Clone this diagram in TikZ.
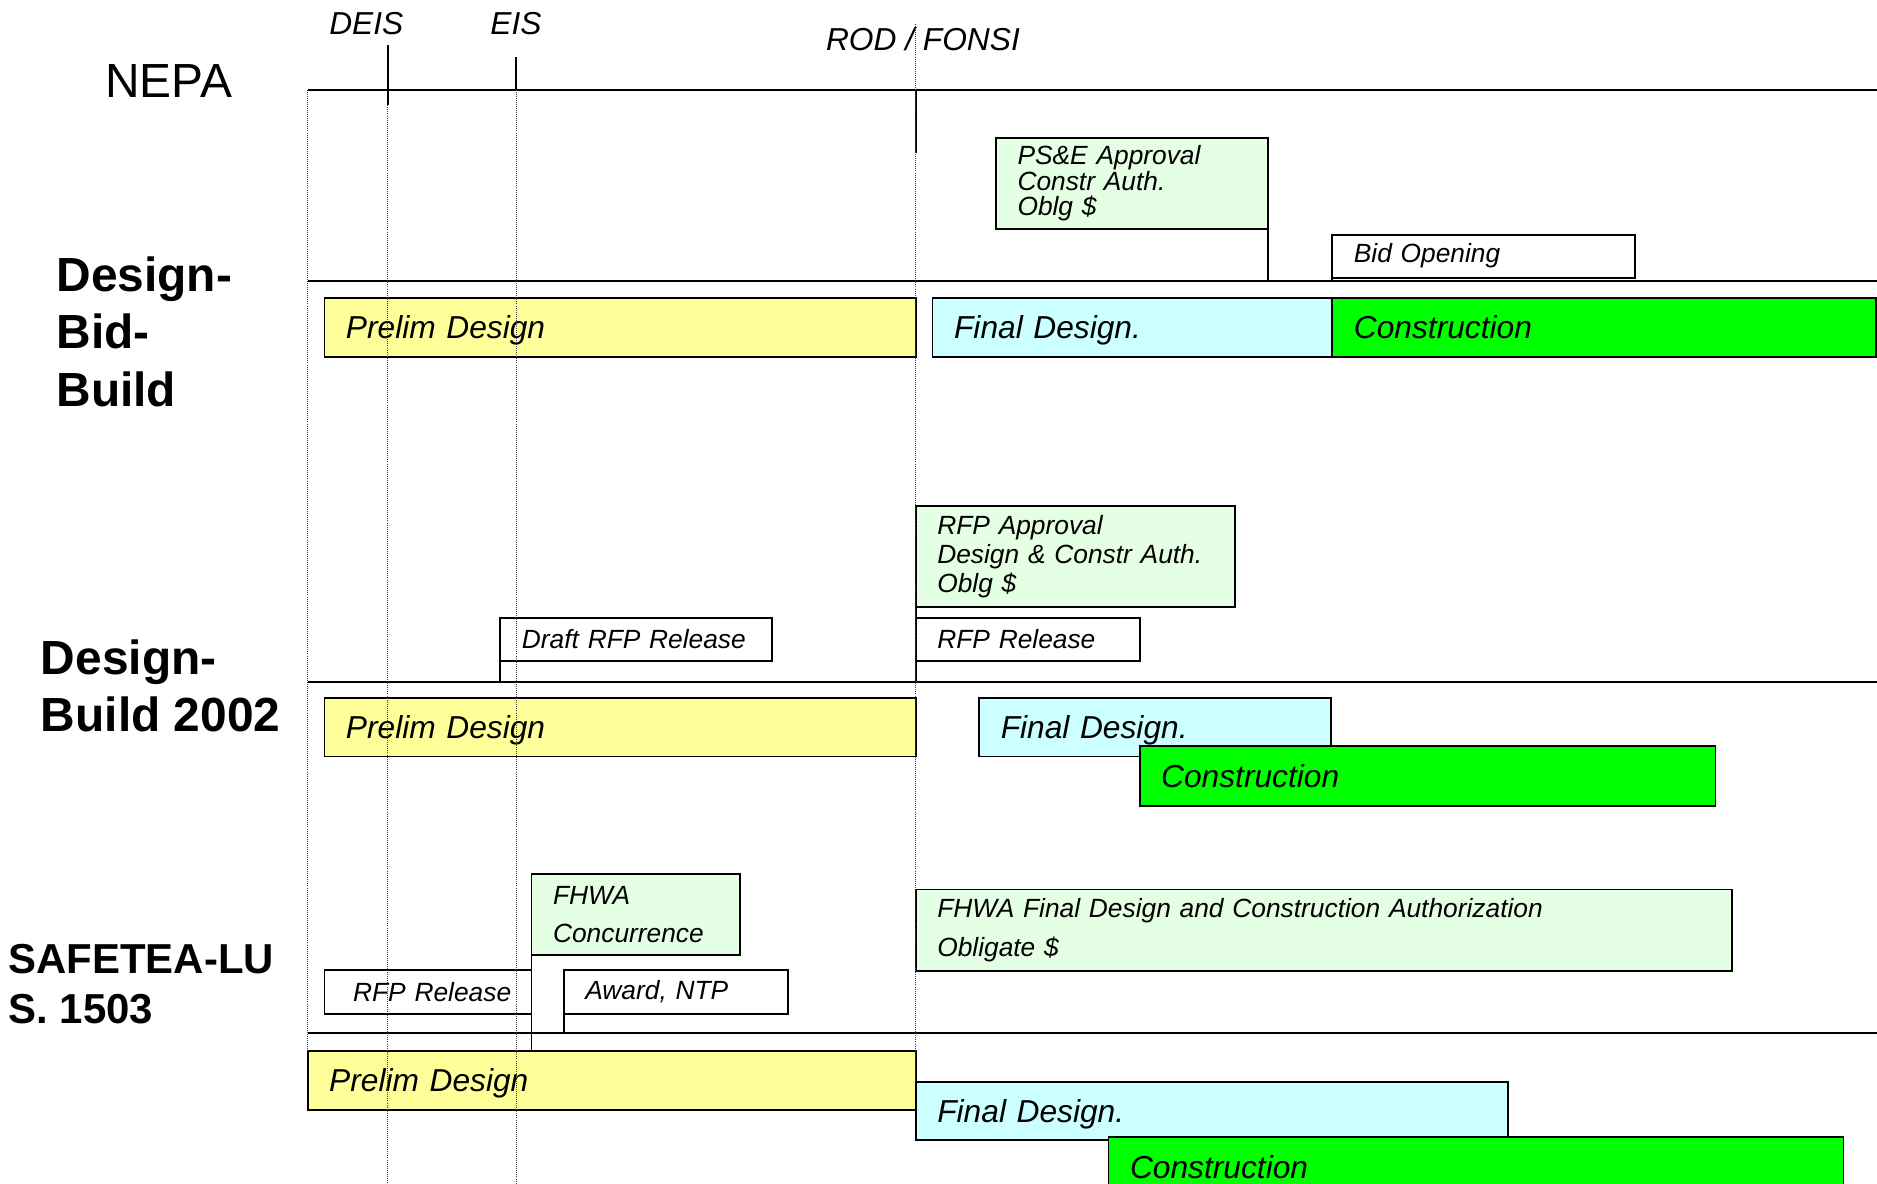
\documentclass[tikz,border=0pt]{standalone}
\usepackage{fontspec}
\setmainfont{Liberation Sans}
\usetikzlibrary{positioning}

\definecolor{prelimyellow}{RGB}{255,255,153}
\definecolor{finalcyan}{RGB}{204,255,255}
\definecolor{constrgreen}{RGB}{0,255,0}
\definecolor{approvalgreen}{RGB}{229,255,229}

\newcommand{\barfont}{\fontsize{26.5}{30}\selectfont\itshape}
\newcommand{\milefont}{\fontsize{22}{26}\selectfont\itshape}
\newcommand{\rowfont}{\fontsize{40}{48}\selectfont\bfseries}

\tikzset{
  box/.style={draw, line width=1.5pt, anchor=north west, align=left,
    inner xsep=18pt, inner ysep=0pt, outer sep=0pt, font=\milefont},
  milestone/.style={box, fill=white},
  approval/.style={box, fill=approvalgreen},
  bar/.style={box, minimum height=49pt, text depth=0pt, font=\barfont},
  prelim/.style={bar, fill=prelimyellow},
  final/.style={bar, fill=finalcyan},
  constr/.style={bar, fill=constrgreen},
  rule/.style={line width=1.5pt},
  guide/.style={densely dotted, line width=0.7pt, black!75},
  row/.style={anchor=west, align=left, inner sep=0pt, font=\rowfont}
}

\begin{document}
\begin{tikzpicture}[x=1pt, y=-1pt]
\useasboundingbox (0,0) rectangle (1568,989);

% NEPA time line
\node [font=\fontsize{40}{48}\selectfont] (nepa) at (141,68) {NEPA};
\node [font=\barfont] (deis) at (306,20) {DEIS};
\node [font=\barfont] (eis) at (431,20) {EIS};
\node [font=\barfont] (rod) at (771,33) {ROD / FONSI};
\coordinate (nepa-l) at (257,75);
\coordinate (nepa-r) at (1568,75);
\draw [rule] (nepa-l) -- (nepa-r);

\foreach \m/\x/\a/\b in {deis/324/38/88, eis/431/48/75, rod/765/75/128} {
  \coordinate (\m-a) at (\x,\a);
  \coordinate (\m-b) at (\x,\b);
  \draw [rule] (\m-a) -- (\m-b);
}

% names of the rows
\node [row] (dbb) at (47,277) {Design-\\Bid-\\Build};
\node [row] (db) at (34,573) {Design-\\Build 2002};
\node [row, font=\fontsize{35}{42}\selectfont\bfseries] (sl) at (7,822) {SAFETEA-LU\\S. 1503};

% one line per row
\foreach \m/\y in {dbb/235, db/570, sl/863} {
  \coordinate (\m-l) at (257,\y);
  \coordinate (\m-r) at (1568,\y);
  \draw [rule] (\m-l) -- (\m-r);
}

% Design-Bid-Build
\node [approval, text width=191pt, minimum height=76pt,
  font=\fontsize{22}{20.5}\selectfont\itshape] (dbb-approval) at (832,115)
  {PS\&E Approval\\Constr Auth.\\Oblg \$};
\node [milestone, text width=217pt, minimum height=36pt] (dbb-bid) at (1113,196) {Bid Opening};
\node [prelim, text width=458pt] (dbb-prelim) at (271,249) {Prelim Design};
\node [final, text width=298pt] (dbb-final) at (779,249) {Final Design.};
\node [constr, text width=418pt] (dbb-constr) at (1113,249) {Construction};
\draw [rule] (dbb-approval.south east) -- (dbb-approval.south east |- dbb-l);
\draw [rule] (dbb-bid.south west) -- (dbb-bid.south west |- dbb-l);

% Design-Build 2002
\node [approval, text width=231pt, minimum height=84pt,
  font=\fontsize{22}{24.5}\selectfont\itshape] (db-approval) at (765,423)
  {RFP Approval\\Design \& Constr Auth.\\Oblg \$};
\node [milestone, text width=191pt, minimum height=36pt] (db-draft) at (418,516) {Draft RFP Release};
\node [milestone, text width=151pt, minimum height=36pt] (db-release) at (765,516) {RFP Release};
\node [prelim, text width=458pt] (db-prelim) at (271,583) {Prelim Design};
\node [final, text width=258pt] (db-final) at (818,583) {Final Design.};
\node [constr, text width=445pt, minimum height=50pt] (db-constr) at (952,623) {Construction};
\draw [rule] (db-draft.south west) -- (db-draft.south west |- db-l);
\draw [rule] (db-approval.south west) -- (db-release.north west);
\draw [rule] (db-release.south west) -- (db-release.south west |- db-l);

% SAFETEA-LU S. 1503
\node [approval, text width=138pt, minimum height=68pt,
  font=\fontsize{22}{32}\selectfont\itshape] (sl-concur) at (444,730)
  {FHWA\\Concurrence};
\node [approval, text width=646pt, minimum height=68pt,
  font=\fontsize{22}{32}\selectfont\itshape] (sl-auth) at (765,743)
  {FHWA Final Design and Construction Authorization\\Obligate \$};
\node [milestone, text width=137pt, minimum height=37pt] (sl-release) at (271,810) {\mbox{\hspace*{6pt}RFP Release}};
\node [milestone, text width=151pt, minimum height=37pt] (sl-award) at (471,810) {Award, NTP};
\node [prelim, text width=472pt] (sl-prelim) at (257,878) {Prelim Design};
\node [final, text width=459pt, minimum height=48pt] (sl-final) at (765,904) {Final Design.};
\node [constr, text width=578pt, minimum height=50pt] (sl-constr) at (926,950) {Construction};
\draw [rule] (sl-concur.south west) -- (sl-concur.south west |- sl-prelim.north);
\draw [rule] (sl-award.south west) -- (sl-award.south west |- sl-l);

% dotted guides of the milestones
\foreach \x/\a/\b in {257/75/878, 324/88/989, 431/75/989, 765/20/904}
  \draw [guide] (\x,\a) -- (\x,\b);
\end{tikzpicture}
\end{document}
